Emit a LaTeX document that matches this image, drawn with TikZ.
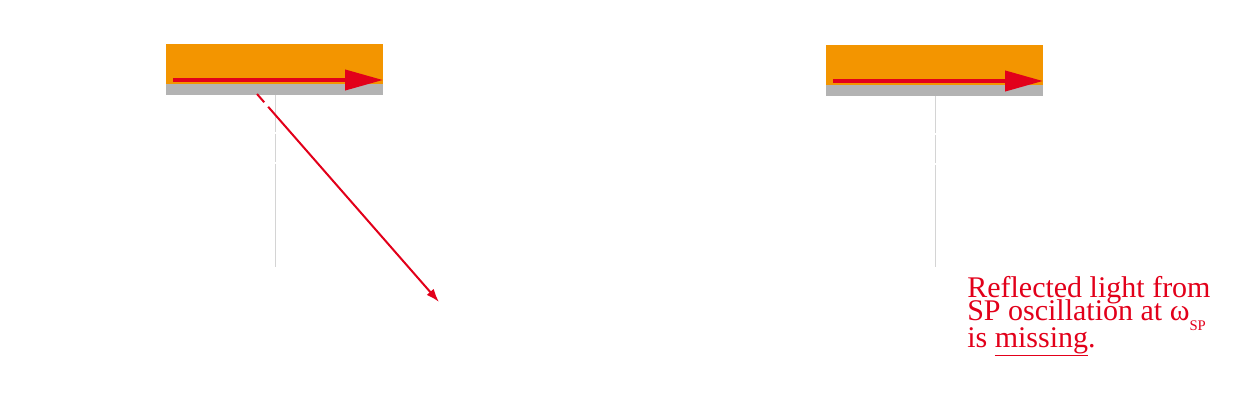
\documentclass[tikz,border=0pt]{standalone}
\usepackage{fontspec}
\setmainfont{Liberation Serif}
\usetikzlibrary{arrows.meta}
\definecolor{plred}{HTML}{E2001A}
\definecolor{plorange}{HTML}{F39500}
\definecolor{plgray}{HTML}{B3B3B3}
\definecolor{normgray}{HTML}{D4D4D4}
\begin{document}
\begin{tikzpicture}[x=0.75pt,y=-0.75pt]
\useasboundingbox (0,0) rectangle (1259,406);
\foreach \dx/\dy in {0/0,660/1}{
\fill[plorange] (166+\dx,44+\dy) rectangle (383+\dx,84+\dy);
\fill[plgray] (166+\dx,84+\dy) rectangle (383+\dx,95+\dy);
\draw[normgray, line width=0.75pt, dash pattern=on 27.75pt off 1.5pt on 21pt off 1.5pt on 150pt] (275+\dx,95+\dy) -- (275+\dx,267);
\draw[plred, line width=3pt, -{Triangle[length=28.5pt,width=15pt]}] (173+\dx,80+\dy) -- (383+\dx,80+\dy);
}
\coordinate (hit) at (257,94);
\coordinate (out) at (439,302);
\draw[plred, line width=1.5pt, dash pattern=on 8.25pt off 4.5pt on 300pt, -{Latex[length=10pt,width=7pt]}] (hit) -- (out);
\node[plred, anchor=base west, align=left, inner sep=0pt, font=\fontsize{22.5}{18.75}\selectfont] (note) at (967,347)
{Reflected light from\\[-3.75pt]SP oscillation at ω\raisebox{-7.5pt}{\fontsize{11}{11}\selectfont SP}\\[-3.75pt]is \underline{missing}.};
\end{tikzpicture}
\end{document}
